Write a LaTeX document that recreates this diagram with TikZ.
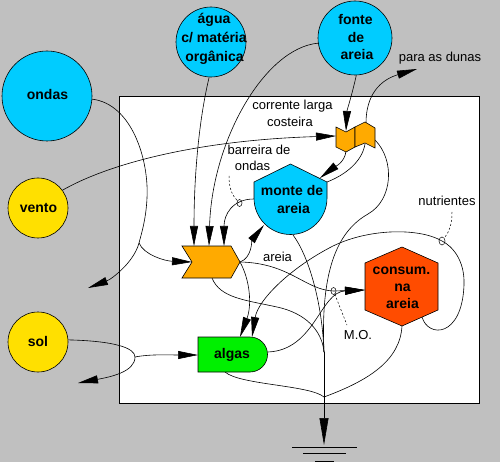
\documentclass[tikz,border=0pt]{standalone}
\usepackage{fontspec}
\setmainfont{Liberation Sans}
\usetikzlibrary{arrows.meta}
\definecolor{bggray}{HTML}{C0C0C0}
\definecolor{cyanc}{HTML}{00CCFF}
\definecolor{yelc}{HTML}{FFE000}
\definecolor{ornc}{HTML}{FFAA00}
\definecolor{grnc}{HTML}{00F000}
\definecolor{consred}{HTML}{FF4C00}
\begin{document}
\begin{tikzpicture}[x=1pt,y=-1pt,line width=0.6pt,
  arr/.style={-{Triangle[length=20pt,width=8pt]}},
  bigarr/.style={-{Triangle[length=27pt,width=9pt]}},
  src/.style={circle,draw=black,line width=0.6pt,inner sep=0pt},
  btxt/.style={font=\fontsize{14}{18}\selectfont\bfseries,inner sep=0pt,anchor=base},
  lbl/.style={font=\fontsize{13}{17}\selectfont,inner sep=0pt,anchor=base},
  shp/.style={draw=black,line width=0.6pt},
  dsh/.style={dash pattern=on 2pt off 2pt,line width=0.5pt},
  thetamark/.style={draw=black,line width=0.5pt}
]
\fill[bggray] (0,0) rectangle (500,462);
\useasboundingbox (0,0) rectangle (500,462);
\draw[line width=0.8pt,fill=white] (119,96) rectangle (479,403);

% sources
\node[src,fill=cyanc,minimum size=90pt] (ondas) at (47,96) {};
\node[src,fill=yelc,minimum size=60pt] (vento) at (38,208) {};
\node[src,fill=yelc,minimum size=60pt] (sol) at (38,342) {};
\node[src,fill=cyanc,minimum size=70pt] (agua) at (211,42) {};
\node[src,fill=cyanc,minimum size=74pt] (fonte) at (355,38) {};

% attachment points
\coordinate (chevT1) at (194,246);
\coordinate (chevT2) at (209,246);
\coordinate (chevT3) at (224,246);
\coordinate (chevL) at (192,262);
\coordinate (chevR) at (240,262);
\coordinate (chevB) at (212,278);
\coordinate (flagLL) at (336,136);
\coordinate (flagLT) at (346,131);
\coordinate (flagLB) at (346,151);
\coordinate (flagRT) at (366,123);
\coordinate (flagRB) at (365,144);
\coordinate (flagRR) at (375,140);
\coordinate (monteL) at (254,199);
\coordinate (monteRoof) at (320,178);
\coordinate (monteRS) at (327,182);
\coordinate (monteB) at (293,235);
\coordinate (monteLL) at (264,225);
\coordinate (algasT1) at (240,337);
\coordinate (algasT2) at (252,337);
\coordinate (algasR) at (268,352);
\coordinate (algasL) at (198,355);
\coordinate (algasB) at (225,372);
\coordinate (consL) at (365,290);
\coordinate (consNut) at (422,317);
\coordinate (consB) at (402,326);
\coordinate (oj) at (139,243);
\coordinate (ondasout) at (88,288);
\coordinate (solj) at (135,357);
\coordinate (solout) at (78,383);
\coordinate (dunas) at (417,69);
\coordinate (gj1) at (324,352);
\coordinate (gj2) at (324,397);
\coordinate (sinktip) at (324,445);
\coordinate (thB) at (239.5,203);
\coordinate (thN) at (442,241);
\coordinate (thMO) at (333.5,291);
\coordinate (barrend) at (229,176);
\coordinate (nutend) at (452,212);
\coordinate (moend) at (347,325);

% connectors
\draw (ondas.-4) .. controls (132,104) and (149,160) .. (147,198) .. controls (146,220) and (141,235) .. (oj);
\draw[arr] (oj) .. controls (144,255) and (165,261) .. (chevL);
\draw[arr] (oj) .. controls (134,262) and (112,279) .. (ondasout);
\draw[arr] (vento.36) .. controls (110,163) and (200,140) .. (flagLL);
\draw[arr] (agua.-93) .. controls (200,115) and (194,170) .. (chevT1);
\draw[arr] (fonte.188) .. controls (265,48) and (212,140) .. (chevT2);
\draw[arr] (monteL) .. controls (232,199) and (224,215) .. (chevT3);
\draw[arr] (fonte.-88) .. controls (352,95) and (347,110) .. (flagLT);
\draw[arr] (flagRT) .. controls (366,95) and (380,80) .. (dunas);
\draw[arr] (flagLB) .. controls (345,163) and (333,168) .. (monteRoof);
\draw (monteRS) .. controls (345,175) and (362,162) .. (flagRB);
\draw (flagRR) .. controls (395,160) and (393,200) .. (368,214) .. controls (340,230) and (320,265) .. (gj1);
\draw (monteB) .. controls (308,255) and (322,300) .. (gj1);
\draw[arr] (chevR) .. controls (252,258) and (252,240) .. (monteLL);
\draw[arr] (chevR) .. controls (290,263) and (305,290) .. (thMO) -- (consL);
\draw[arr] (algasR) .. controls (315,350) and (320,292) .. (consL);
\draw[arr] (chevR) .. controls (250,280) and (252,305) .. (algasT1);
\draw[arr] (consNut) .. controls (428,338) and (462,338) .. (464,285) .. controls (465,260) and (452,246) .. (thN) .. controls (420,228) and (370,228) .. (333,246) .. controls (290,268) and (258,300) .. (algasT2);
\draw (chevB) .. controls (220,298) and (245,300) .. (277,307) .. controls (305,313) and (322,330) .. (gj1);
\draw (gj1) -- (gj2);
\draw (algasB) .. controls (240,385) and (310,385) .. (gj2);
\draw (consB) .. controls (400,360) and (370,380) .. (gj2);
\draw[bigarr] (gj2) -- (sinktip);
\draw (sol.4) .. controls (115,341) and (135,348) .. (solj);
\draw[arr] (solj) .. controls (135,372) and (110,377) .. (solout);
\draw[arr] (solj) .. controls (150,354) and (170,355) .. (algasL);

% heat sink
\draw (292,447) -- (357,447);
\draw (303,453) -- (346,453);
\draw (315,461) -- (334,461);

% markers and dashed leaders
\draw[thetamark] (thB) ellipse [x radius=2.5pt,y radius=3.5pt];
\draw[thetamark] (thN) ellipse [x radius=3pt,y radius=4pt];
\draw[thetamark] (thMO) ellipse [x radius=2.5pt,y radius=3.5pt];
\draw[dsh,shorten >=3.5pt] (barrend) .. controls (229,190) and (233,196) .. (thB);
\draw[dsh,shorten >=4pt] (nutend) .. controls (452,225) and (449,232) .. (thN);
\draw[dsh,shorten <=3.5pt] (thMO) -- (moend);

% storages / interactions
\draw[shp,fill=ornc] (182,246) -- (231,246) -- (240,262) -- (231,278) -- (182,278) -- (192,262) -- cycle;
\draw[shp,fill=ornc] (336,127) -- (346,132) -- (355,127) -- (355,147) -- (346,152) -- (336,147) -- cycle;
\draw[shp,fill=ornc] (355,127) -- (365,122) -- (375,128) -- (375,148) -- (365,143) -- (355,147) -- cycle;
\draw[shp,fill=cyanc] (254,182) -- (290.5,164) -- (327,182) -- (327,198) arc[start angle=0,end angle=-180,radius=36.5pt] -- cycle;
\draw[shp,fill=grnc] (198,337) -- (250,337) arc[start angle=90,end angle=-90,radius=17.5pt] -- (198,372) -- cycle;
\draw[shp,fill=consred] (402,247) -- (438,263) -- (438,310) -- (402,326) -- (365,310) -- (365,263) -- cycle;

% texts
\node[btxt] (tondas) at (47.5,100) {ondas};
\node[btxt] (tvento) at (38.5,213) {vento};
\node[btxt] (tsol) at (38,346) {sol};
\node[btxt] (tagua1) at (214,24) {água};
\node[btxt] (tagua2) at (214,43) {c/ matéria};
\node[btxt] (tagua3) at (214.5,62) {orgânica};
\node[btxt] (tfonte1) at (355.5,25) {fonte};
\node[btxt] (tfonte2) at (356,42.5) {de};
\node[btxt] (tfonte3) at (357,60) {areia};
\node[btxt] (tmonte1) at (292,196) {monte de};
\node[btxt] (tmonte2) at (293.5,214) {areia};
\node[btxt] (talgas) at (232,358) {algas};
\node[btxt] (tcons1) at (401.5,274) {consum.};
\node[btxt] (tcons2) at (402.5,291) {na};
\node[btxt] (tcons3) at (402.5,308) {areia};
\node[lbl] (lcor1) at (292.5,110) {corrente larga};
\node[lbl] (lcor2) at (290,127) {costeira};
\node[lbl] (lbar1) at (259,155) {barreira de};
\node[lbl] (lbar2) at (252.5,171) {ondas};
\node[lbl] (ldunas) at (440,62) {para as dunas};
\node[lbl] (lnut) at (447,206) {nutrientes};
\node[lbl] (lareia) at (277.5,261) {areia};
\node[lbl] (lmo) at (358,339) {M.O.};
\end{tikzpicture}
\end{document}
